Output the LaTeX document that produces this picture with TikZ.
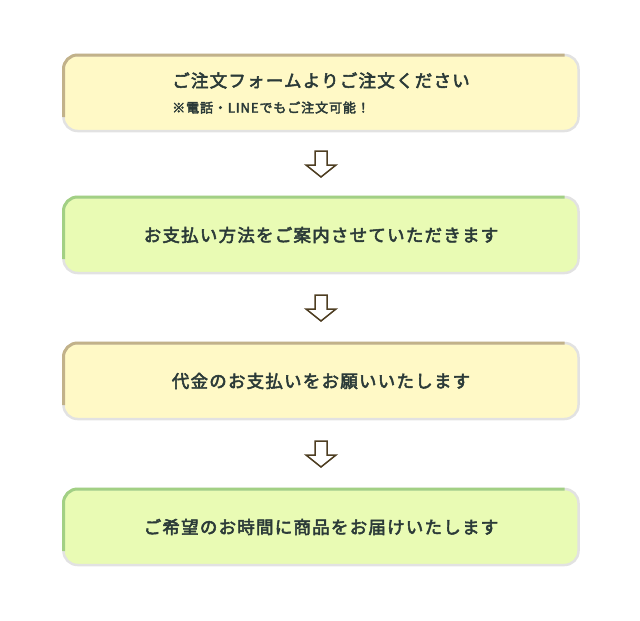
\documentclass[tikz,border=0pt]{standalone}
\usepackage{fontspec}
\usepackage{tikz}
\usetikzlibrary{positioning, calc}
\newfontfamily\jpfont[LetterSpace=7,FakeBold=3]{Noto Sans CJK JP}
\definecolor{stepink}{HTML}{2B3A38}
\definecolor{yellowfill}{HTML}{FFF9C6}
\definecolor{greenfill}{HTML}{E9FBB4}
\definecolor{tanedge}{HTML}{C2B28A}
\definecolor{greenedge}{HTML}{A2D084}
\definecolor{lightedge}{HTML}{E2E2E2}
\definecolor{arrowbrown}{HTML}{4E3E22}
% hollow down arrow centred on a coordinate
\newcommand{\flowarrow}[1]{%
  \draw[flowarr] (#1) ++(-6,-13) -- ++(12,0) -- ++(0,14) -- ++(9,0)
    -- ++(-15,12) -- ++(-15,-12) -- ++(9,0) -- cycle;}
% darker top-left edge over the light box border
\newcommand{\topedge}[2]{%
  \draw[line width=3pt, #2]
    ([yshift=14pt]#1.south west) -- ([yshift=-14pt]#1.north west)
    arc[start angle=180, end angle=90, radius=14pt] -- ([xshift=-14pt]#1.north east);}

\begin{document}
\begin{tikzpicture}[
  x=1pt, y=-1pt,
  every node/.style={font=\jpfont, text=stepink},
  stepbox/.style={rectangle, rounded corners=14pt, draw=lightedge, line width=2.5pt,
                  minimum width=515pt, minimum height=76pt, inner sep=0pt, outer sep=0pt},
  yellowbox/.style={stepbox, fill=yellowfill},
  greenbox/.style={stepbox, fill=greenfill},
  flowarr/.style={draw=arrowbrown, line width=1.5pt, fill=white, line join=miter},
]
\useasboundingbox (0,0) rectangle (640,621);

% Steps
\node[yellowbox, align=left] (order) at (321,93)
  {\fontsize{17.5}{20}\selectfont ご注文フォームよりご注文ください\\[12pt]
   \fontsize{13}{16}\selectfont ※電話・LINEでもご注文可能！};
\node[greenbox, below=66pt of order] (payinfo)
  {\fontsize{17.5}{20}\selectfont お支払い方法をご案内させていただきます};
\node[yellowbox, below=70pt of payinfo] (payment)
  {\fontsize{17.5}{20}\selectfont 代金のお支払いをお願いいたします};
\node[greenbox, below=70pt of payment] (delivery)
  {\fontsize{17.5}{20}\selectfont ご希望のお時間に商品をお届けいたします};

% Border shading
\topedge{order}{tanedge}
\topedge{payinfo}{greenedge}
\topedge{payment}{tanedge}
\topedge{delivery}{greenedge}

% Arrows between steps
\coordinate (a1) at ($(order.south)!0.5!(payinfo.north)$);
\coordinate (a2) at ($(payinfo.south)!0.5!(payment.north)$);
\coordinate (a3) at ($(payment.south)!0.5!(delivery.north)$);
\flowarrow{a1}
\flowarrow{a2}
\flowarrow{a3}

\end{tikzpicture}
\end{document}
